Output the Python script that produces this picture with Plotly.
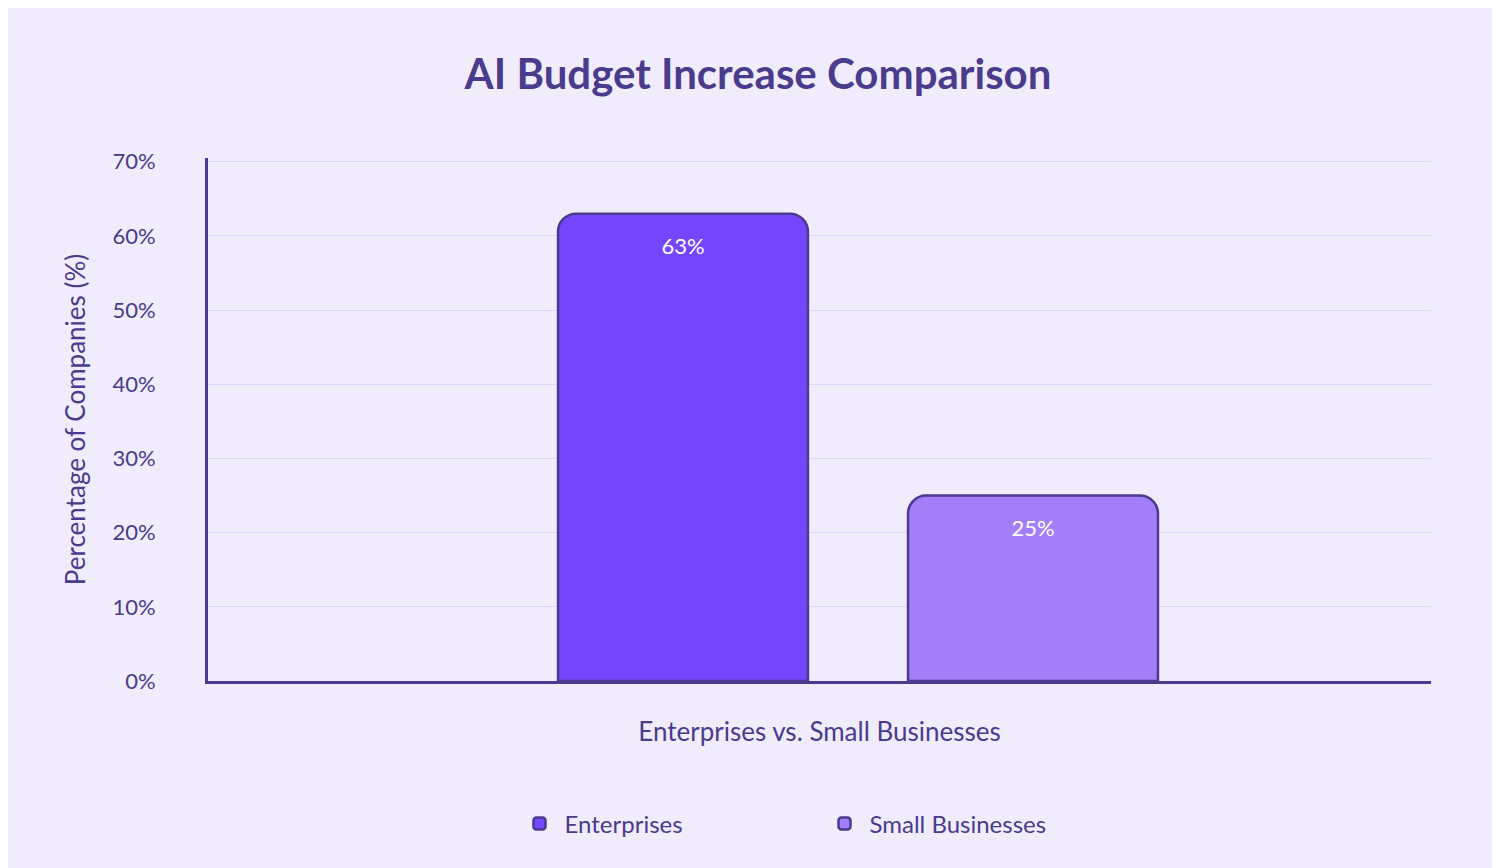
import plotly.graph_objects as go

categories = ["Enterprises", "Small Businesses"]
values = [63, 25]
colors = ["#7447FF", "#A27EF8"]
x_pos = [0, 1]

fig = go.Figure()
for cat, val, col, xp in zip(categories, values, colors, x_pos):
    fig.add_trace(go.Bar(
        x=[xp], y=[val], name=cat, width=0.714,
        marker=dict(color=col, line=dict(color="#4B3A8E", width=2.5), cornerradius=18),
        text=[f"{val}%"], textposition="inside", insidetextanchor="end",
        textfont=dict(color="white", size=22),
    ))

fig.update_layout(
    width=1500, height=868,
    paper_bgcolor="#F1ECFC", plot_bgcolor="#F1ECFC",
    font=dict(family="Lato", color="#4A3B8C", size=22),
    title=dict(text="<b>AI Budget Increase Comparison</b>", x=0.5, y=0.94,
               xanchor="center", font=dict(size=42, color="#4A3B8C")),
    margin=dict(l=200, r=77, t=150, b=195),
    showlegend=True,
    legend=dict(orientation="h", x=0.5, xanchor="center", y=-0.23, yanchor="top",
                font=dict(size=24), itemwidth=40, entrywidth=250),
    xaxis=dict(range=[-1.357, 2.137], showticklabels=False, showgrid=False,
               zeroline=False, showline=True, linecolor="#4B3A8E", linewidth=3,
               title=dict(text="Enterprises vs. Small Businesses", font=dict(size=26), standoff=40)),
    yaxis=dict(range=[0, 70.5], tickvals=[0, 10, 20, 30, 40, 50, 60, 70],
               ticktext=["0%", "10%", "20%", "30%", "40%", "50%", "60%", "70%"],
               showgrid=True, gridcolor="#DCD6F8", zeroline=False,
               showline=True, linecolor="#4B3A8E", linewidth=3, ticks="", ticklabelstandoff=45,
               title=dict(text="Percentage of Companies (%)", font=dict(size=26), standoff=20)),
)

fig.write_html("out.html")
